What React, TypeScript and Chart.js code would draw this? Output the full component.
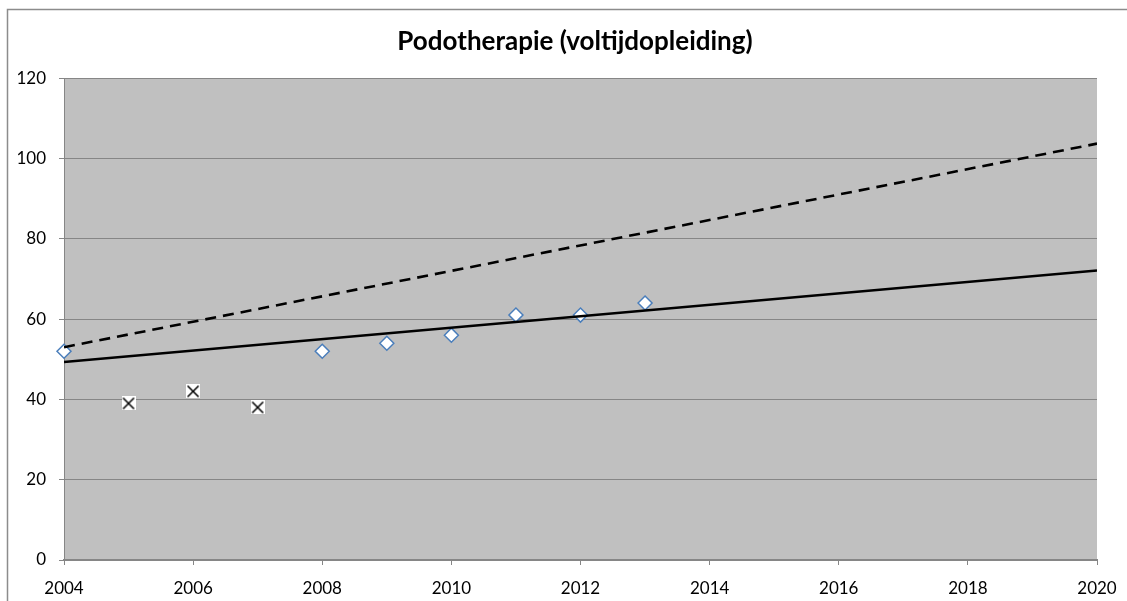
import React, { useEffect, useRef } from "react";
import { Chart, registerables } from "chart.js";

Chart.register(...registerables);

const TITLE = "Podotherapie (voltijdopleiding)";
const diamondYears = [2004, 2008, 2009, 2010, 2011, 2012, 2013];
const diamondValues = [52, 52, 54, 56, 61, 61, 64];
const crossYears = [2005, 2006, 2007];
const crossValues = [39, 42, 38];
const trendYears = [2004, 2020];
const solidTrend = [49.3, 72.1];
const dashedTrend = [53.0, 103.7];
const yTicks = [0, 20, 40, 60, 80, 100, 120];
const xTicks = [2004, 2006, 2008, 2010, 2012, 2014, 2016, 2018, 2020];

const GRID = "#868686";
const FONT = "Lato";

function makeCross(): HTMLCanvasElement {
  const c = document.createElement("canvas");
  c.width = 14;
  c.height = 14;
  const g = c.getContext("2d")!;
  g.fillStyle = "#ffffff";
  g.fillRect(0, 0, 14, 14);
  g.strokeStyle = "#000000";
  g.lineWidth = 1.5;
  g.beginPath();
  g.moveTo(1.5, 1.5);
  g.lineTo(12.5, 12.5);
  g.moveTo(12.5, 1.5);
  g.lineTo(1.5, 12.5);
  g.stroke();
  return c;
}

const bgPlugin = {
  id: "bgPlugin",
  beforeDraw(chart: any) {
    const { ctx, chartArea } = chart;
    ctx.save();
    ctx.fillStyle = "#ffffff";
    ctx.fillRect(0, 0, chart.width, chart.height);
    ctx.strokeStyle = "#8c8c8c";
    ctx.lineWidth = 1.5;
    ctx.strokeRect(7.5, 9.5, 3000, 3000);
    ctx.fillStyle = "#c0c0c0";
    ctx.fillRect(
      chartArea.left,
      chartArea.top,
      chartArea.right - chartArea.left,
      chartArea.bottom - chartArea.top
    );
    ctx.restore();
  },
};

export default function App() {
  const ref = useRef<HTMLCanvasElement | null>(null);

  useEffect(() => {
    document.body.style.margin = "0";
    document.body.style.overflow = "hidden";
    const cross = makeCross();
    const toPts = (xs: number[], ys: number[]) => xs.map((x, i) => ({ x, y: ys[i] }));
    const chart = new Chart(ref.current!, {
      type: "scatter",
      data: {
        datasets: [
          {
            label: "trend",
            data: toPts(trendYears, solidTrend),
            showLine: true,
            borderColor: "#000000",
            borderWidth: 2.6,
            pointRadius: 0,
            order: 0,
          },
          {
            label: "trend2",
            data: toPts(trendYears, dashedTrend),
            showLine: true,
            borderColor: "#000000",
            borderWidth: 2.6,
            borderDash: [11, 7],
            pointRadius: 0,
            order: 0,
          },
          {
            label: "voltijd",
            data: toPts(diamondYears, diamondValues),
            pointStyle: "rectRot",
            pointRadius: 7,
            backgroundColor: "#ffffff",
            borderColor: "#4a7ebb",
            borderWidth: 1.5,
            clip: false,
            order: 1,
          },
          {
            label: "excluded",
            data: toPts(crossYears, crossValues),
            pointStyle: cross as any,
            pointRadius: 7,
            clip: false,
            order: 1,
          },
        ],
      },
      options: {
        responsive: false,
        animation: false,
        devicePixelRatio: 1,
        layout: { padding: 0 },
        plugins: {
          legend: { display: false },
          tooltip: { enabled: false },
          title: {
            display: true,
            text: TITLE,
            color: "#000000",
            font: { family: FONT, size: 26, weight: "bold", lineHeight: 1.2 },
            padding: { top: 26, bottom: 21 },
          },
        },
        scales: {
          x: {
            type: "linear",
            min: 2004,
            max: 2020,
            afterFit: (s: any) => {
              s.height = 41;
              s.paddingRight = 53;
            },
            afterBuildTicks: (s: any) => {
              s.ticks = xTicks.map((v) => ({ value: v }));
            },
            grid: {
              drawOnChartArea: false,
              drawTicks: true,
              tickLength: 5,
              color: GRID,
            },
            border: { display: true, color: GRID, width: 2 },
            ticks: {
              color: "#000000",
              font: { family: FONT, size: 17 },
              padding: 13,
              maxRotation: 0,
              callback: (v: any) => String(v),
            },
          },
          y: {
            min: 0,
            max: 120,
            afterFit: (s: any) => {
              s.width = 64;
            },
            afterBuildTicks: (s: any) => {
              s.ticks = yTicks.map((v) => ({ value: v }));
            },
            grid: { color: GRID, lineWidth: 1, tickLength: 5 },
            border: { display: true, color: GRID, width: 1 },
            ticks: {
              color: "#000000",
              font: { family: FONT, size: 17 },
              padding: 13,
            },
          },
        },
      },
      plugins: [bgPlugin],
    });
    return () => chart.destroy();
  }, []);

  return (
    <div style={{ width: 1127, height: 601, overflow: "hidden", position: "relative" }}>
      <canvas ref={ref} width={1150} height={601} style={{ display: "block" }} />
    </div>
  );
}
